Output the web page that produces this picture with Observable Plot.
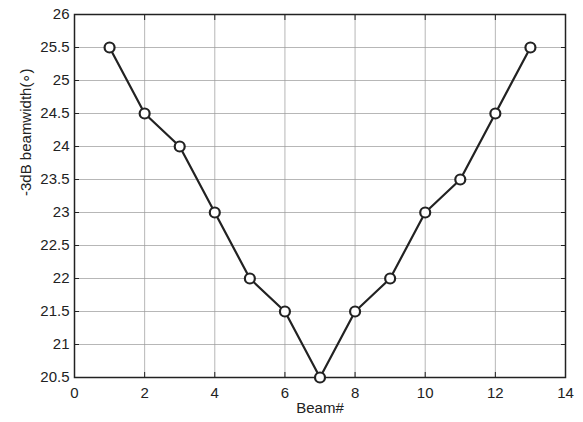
<!DOCTYPE html>
<html>
<head>
<meta charset="utf-8">
<script src="https://cdn.jsdelivr.net/npm/d3@7"></script>
<script src="https://cdn.jsdelivr.net/npm/@observablehq/plot@0.6"></script>
<style>
  body { margin: 0; background: #fff; }
  #chart svg { font-family: "Liberation Sans", Arial, sans-serif; }
</style>
</head>
<body>
<div id="chart"></div>
<script>
const beams = [1, 2, 3, 4, 5, 6, 7, 8, 9, 10, 11, 12, 13];
const beamwidth = [25.5, 24.5, 24, 23, 22, 21.5, 20.5, 21.5, 22, 23, 23.5, 24.5, 25.5];
const xTicks = [0, 2, 4, 6, 8, 10, 12, 14];
const yTicks = [20.5, 21, 21.5, 22, 22.5, 23, 23.5, 24, 24.5, 25, 25.5, 26];

const data = beams.map((b, i) => ({beam: b, bw: beamwidth[i]}));
const fmtY = d => String(d);

const plot = Plot.plot({
  width: 583,
  height: 422,
  marginLeft: 74,
  marginRight: 18,
  marginTop: 14,
  marginBottom: 45,
  style: {fontSize: "15px", fontFamily: "Liberation Sans, Arial, sans-serif", color: "#222", background: "#fff"},
  x: {domain: [0, 14]},
  y: {domain: [20.5, 26]},
  marks: [
    Plot.gridX(xTicks, {stroke: "#999", strokeOpacity: 0.7, strokeWidth: 1}),
    Plot.gridY(yTicks, {stroke: "#999", strokeOpacity: 0.7, strokeWidth: 1}),
    Plot.axisX(xTicks, {anchor: "bottom", tickSize: -5, tickPadding: 15, label: null, stroke: "#222", fontSize: 15}),
    Plot.axisX(xTicks, {anchor: "top", tickSize: -5, tickFormat: () => "", label: null, stroke: "#222"}),
    Plot.axisY(yTicks, {anchor: "left", tickSize: -5, tickPadding: 10, tickFormat: fmtY, label: null, stroke: "#222", fontSize: 15}),
    Plot.axisY(yTicks, {anchor: "right", tickSize: -5, tickFormat: () => "", label: null, stroke: "#222"}),
    Plot.frame({stroke: "#222", strokeWidth: 1.5}),
    Plot.line(data, {x: "beam", y: "bw", stroke: "#222", strokeWidth: 2.2}),
    Plot.dot(data, {x: "beam", y: "bw", r: 5, stroke: "#222", strokeWidth: 2.2, fill: "#fff"}),
    Plot.text(["Beam#"], {frameAnchor: "bottom", dy: 35, text: d => d, fontSize: 15, fill: "#222"}),
    Plot.text(["-3dB beamwidth(\u2218)"], {frameAnchor: "left", dx: -48, rotate: -90, text: d => d, fontSize: 15, fill: "#222"})
  ]
});
document.getElementById("chart").appendChild(plot);
</script>
</body>
</html>
